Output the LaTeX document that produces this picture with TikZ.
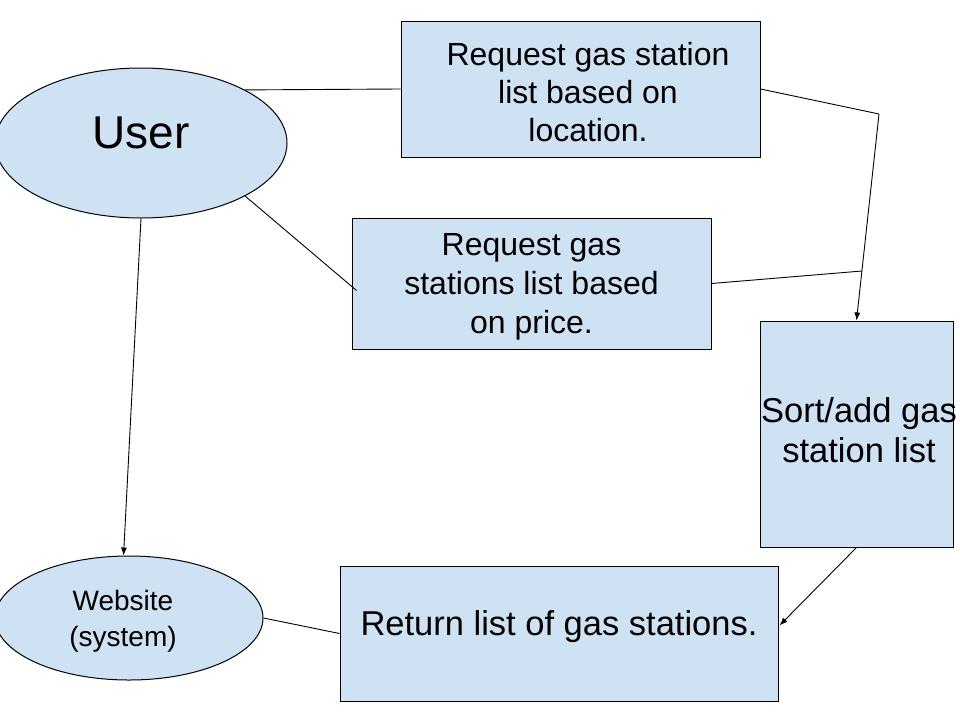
\documentclass[tikz,border=0pt]{standalone}
\usepackage{fontspec}
\setmainfont{Liberation Sans}
\usetikzlibrary{shapes.geometric}
\usetikzlibrary{arrows.meta}
\definecolor{GDlightblue}{HTML}{CFE2F3}

\begin{document}
\begin{tikzpicture}[x=1pt,y=-1pt,
  actor/.style={ellipse,draw,line width=1pt,fill=GDlightblue,inner sep=0pt},
  usecase/.style={rectangle,draw,line width=1pt,fill=GDlightblue,inner sep=0pt,align=center},
  link/.style={line width=0.9pt},
  flow/.style={line width=0.9pt,-{Latex[length=8pt,width=6pt]}}]

\useasboundingbox (0,0) rectangle (960,720);

% Actors
\node[actor,minimum width=292pt,minimum height=150pt] (user) at (141,143) {};
\node[font=\fontsize{46}{52}\selectfont] at (141,133) {User};
\node[actor,minimum width=268pt,minimum height=124pt] (website) at (129,618) {};
\node[font=\fontsize{28}{36}\selectfont,align=center] at (123,621) {Website\\(system)};

% Boxes
\node[usecase,minimum width=359pt,minimum height=136pt] (location) at (580.5,89) {};
\node[font=\fontsize{32}{38}\selectfont,align=center] at (588,92) {Request gas station\\list based on\\location.};
\node[usecase,minimum width=359pt,minimum height=131pt] (price) at (531.5,283.5) {};
\node[font=\fontsize{32}{39}\selectfont,align=center] at (531.5,287) {Request gas\\stations list based\\on price.};
\node[usecase,minimum width=193pt,minimum height=226pt] (sort) at (856.5,434) {};
\node[font=\fontsize{34.5}{40}\selectfont,align=center] at (859,430) {Sort/add gas\\station list};
\node[usecase,minimum width=438pt,minimum height=135pt] (result) at (559,633.5) {};
\node[font=\fontsize{34.5}{40}\selectfont] at (559,627) {Return list of gas stations.};

% Connectors
\coordinate (bend) at (879,114);
\coordinate (join) at (862,271);
\draw[link] (user.27) -- (location.west);
\draw[link] (user.-27) -- ([shift={(5,7)}]price.west);
\draw[flow] (user.south) -- (website.95);
\draw[link] (location.east) -- (bend);
\draw[flow] (bend) -- (sort.north);
\draw[link] (price.east) -- (join);
\draw[flow] (sort.south) -- ([shift={(1,-8)}]result.east);
\draw[link] (website.east) -- (result.west);

\end{tikzpicture}
\end{document}
